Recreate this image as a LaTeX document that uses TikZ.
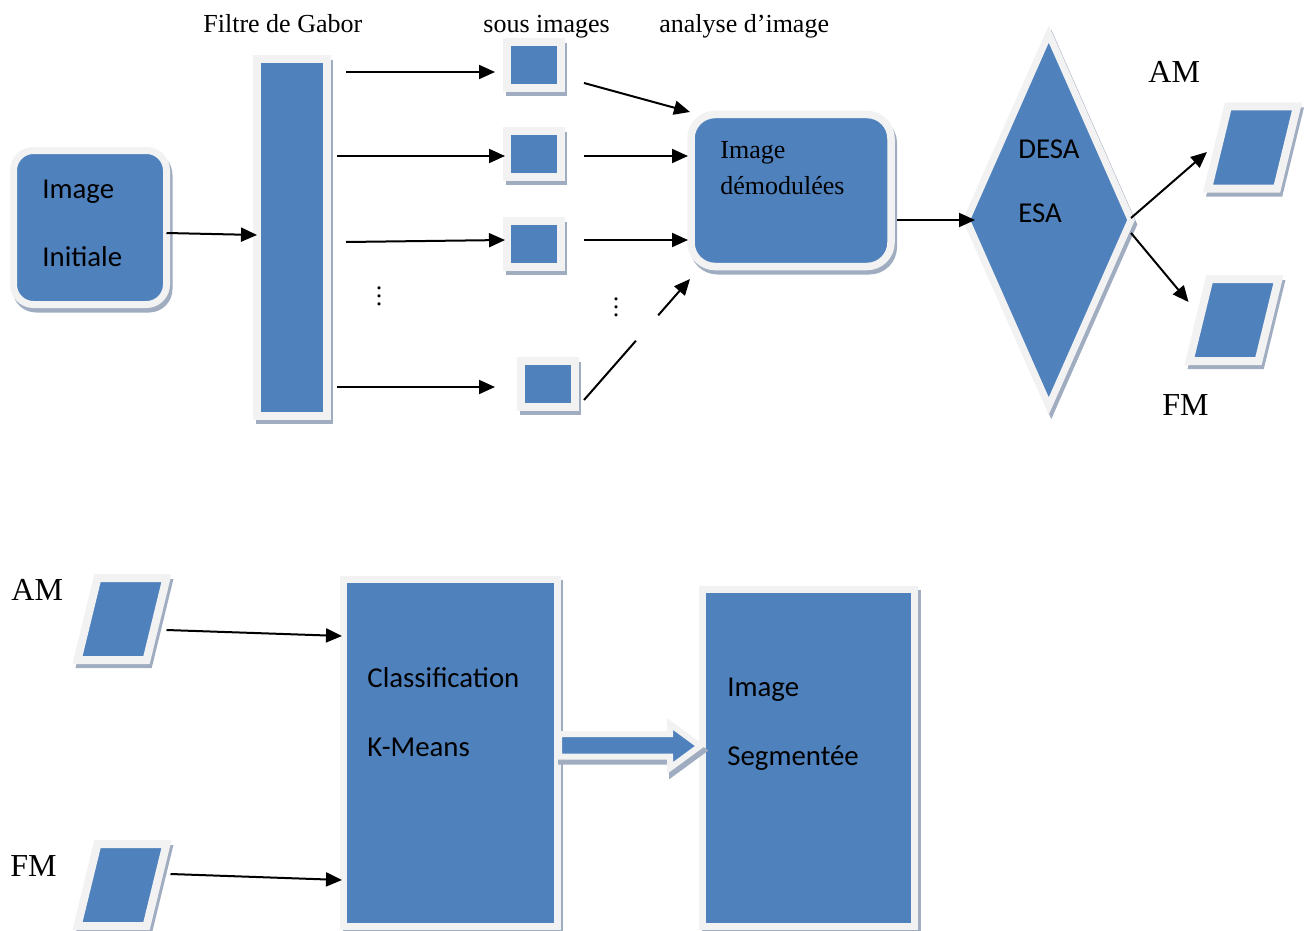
\documentclass[tikz,border=0pt]{standalone}
\usepackage{fontspec}
\setmainfont{Liberation Serif}
\newfontfamily\calfont{Carlito}
\usetikzlibrary{arrows.meta,shapes.geometric,shadows,calc}
\definecolor{blueF}{HTML}{4F81BD}
\definecolor{lightB}{HTML}{F2F2F2}
\definecolor{shadC}{RGB}{160,172,192}
\begin{document}
\begin{tikzpicture}[x=0.5pt,y=-0.5pt,
  shp/.style={fill=blueF, draw=lightB, line width=3.5pt, inner sep=0pt, outer sep=0pt,
    general shadow={shadow xshift=1.25pt, shadow yshift=-2.25pt, fill=shadC, draw=shadC, line width=3.5pt}},
  parpic/.pic={
    \draw[shp, line width=4pt] (-24.5,-41) -- (44.5,-41) -- (24.5,41) -- (-44.5,41) -- cycle;
    \coordinate (-w) at (-34.5,0);
    \coordinate (-e) at (34.5,0);
  },
  arr/.style={-{Triangle[length=8pt,width=7pt]}, line width=1pt},
  ln/.style={line width=1pt},
  tnr/.style={font=\fontsize{13}{15}\selectfont, inner sep=0pt, anchor=base west},
  big/.style={font=\fontsize{16}{18}\selectfont, inner sep=0pt, anchor=base west},
  cal/.style={font=\calfont\fontsize{14.4}{17}\selectfont, inner sep=0pt, anchor=base west},
  dts/.style={font=\fontsize{13}{15}\selectfont, inner sep=0pt},
]
\useasboundingbox (0,0) rectangle (1311,931);

% ---------- top row shapes ----------
\node[shp, rounded corners=10pt, minimum width=76.5pt, minimum height=77pt] (init) at (90,227.5) {};
\node[shp, line width=4pt, minimum width=35pt, minimum height=178.5pt] (gabor) at (292,237.5) {};
\node[shp, line width=4pt, minimum width=27pt, minimum height=23pt] (sub1) at (534,65) {};
\node[shp, line width=4pt, minimum width=27pt, minimum height=23pt] (sub2) at (534,154) {};
\node[shp, line width=4pt, minimum width=27pt, minimum height=23pt] (sub3) at (534,244) {};
\node[shp, line width=4pt, minimum width=27pt, minimum height=23pt] (sub4) at (548,383.5) {};
\node[shp, line width=3.75pt, rounded corners=12pt, minimum width=100pt, minimum height=76pt] (demod) at (791,190.5) {};
\node[shp, diamond, minimum width=82.25pt, minimum height=186pt] (dia) at (1048.75,220) {};
\pic (amT) at (1252.5,147.5) {parpic};
\pic (fmT) at (1234,320) {parpic};

% ---------- bottom row shapes ----------
\pic (amB) at (122,619) {parpic};
\pic (fmB) at (122,885) {parpic};
\node[shp, minimum width=106.75pt, minimum height=173.5pt] (clf) at (450.25,752.5) {};
\node[shp, minimum width=106pt, minimum height=168.75pt] (seg) at (808.5,757.75) {};
\draw[shp, line width=3pt] (559,734) -- (670,734) -- (670,724) -- (700,746) -- (670,768) -- (670,756.5) -- (559,756.5) -- cycle;

% ---------- texts ----------
\node[tnr] (tgab) at (203,33) {Filtre de Gabor};
\node[tnr] (tsous) at (483,33) {sous images};
\node[tnr] (tana) at (659,33) {analyse d’image};
\node[cal] (ti1) at (42,198) {Image};
\node[cal] (ti2) at (42,266) {Initiale};
\node[tnr] (td1) at (720,158) {Image};
\node[tnr] (td2) at (720,194) {démodulées};
\node[cal] (tdesa) at (1018,158) {DESA};
\node[cal] (tesa) at (1018,222) {ESA};
\node[big] (tam) at (1148,83) {AM};
\node[big] (tfm) at (1162,415) {FM};
\node[big] (tam2) at (11,600) {AM};
\node[big] (tfm2) at (10,876) {FM};
\node[cal] (tcl) at (367,687) {Classification};
\node[cal] (tkm) at (367,756) {K-Means};
\node[cal] (ts1) at (727,696) {Image};
\node[cal] (ts2) at (727,765) {Segmentée};
\node[dts] (dots1) at (379,290) {$\vdots$};
\node[dts] (dots2) at (616,301) {$\vdots$};

% ---------- connector end points ----------
\coordinate (g1) at ($(gabor.east|-sub1.west)+(19,7)$);
\coordinate (s1i) at ($(sub1.west)+(-12,7)$);
\coordinate (g2) at ($(gabor.east|-sub2.west)+(10,2)$);
\coordinate (s2i) at ($(sub2.west)+(-2,2)$);
\coordinate (g3) at ($(gabor.east|-sub3.west)+(19,-2)$);
\coordinate (s3i) at ($(sub3.west)+(-2,-4)$);
\coordinate (g4) at ($(gabor.east|-sub4.west)+(10,3.5)$);
\coordinate (s4i) at ($(sub4.west)+(-26,3.5)$);

\coordinate (s1o) at ($(sub1.east)+(23,18)$);
\coordinate (d1) at ($(demod.north west)+(-1,-2.5)$);
\coordinate (s2o) at ($(sub2.east)+(23,2)$);
\coordinate (d2) at ($(demod.west|-s2o)+(-3,0)$);
\coordinate (s3o) at ($(sub3.east)+(23,-4)$);
\coordinate (d3) at ($(demod.west|-s3o)+(-3,0)$);
\coordinate (s4o) at ($(sub4.east)+(9,16.5)$);
\coordinate (d4) at ($(demod.south west)+(-1,12.5)$);

\coordinate (dmo) at ($(demod.east|-dia.west)+(6,0)$);
\coordinate (di) at ($(dia.west)+(8.5,0)$);
\coordinate (dao) at ($(dia.east)+(0,-2)$);
\coordinate (aoi) at ($(amT-w)+(-11,4.5)$);
\coordinate (dfo) at ($(dia.east)+(0,13)$);
\coordinate (foi) at ($(fmT-w)+(-11,-18)$);

\coordinate (ab) at ($(amB-e)+(10,11)$);
\coordinate (ci1) at ($(clf.north west)+(-1.5,57)$);
\coordinate (fb) at ($(fmB-e)+(14,-11)$);
\coordinate (ci2) at ($(clf.south west)+(-1.5,-46)$);

% ---------- connectors ----------
\draw[arr] ([yshift=-2.75pt]init.east) -- ([yshift=1.25pt]gabor.west);
\draw[arr] (g1) -- (s1i);
\draw[arr] (g2) -- (s2i);
\draw[arr] (g3) -- (s3i);
\draw[arr] (g4) -- (s4i);
\draw[arr] (s1o) -- (d1);
\draw[arr] (s2o) -- (d2);
\draw[arr] (s3o) -- (d3);
\draw[ln] (s4o) -- ($(s4o)!0.49!(d4)$);
\draw[arr] ($(s4o)!0.70!(d4)$) -- (d4);
\draw[arr] (dmo) -- (di);
\draw[arr] (dao) -- (aoi);
\draw[arr] (dfo) -- (foi);
\draw[arr] (ab) -- (ci1);
\draw[arr] (fb) -- (ci2);
\end{tikzpicture}
\end{document}
